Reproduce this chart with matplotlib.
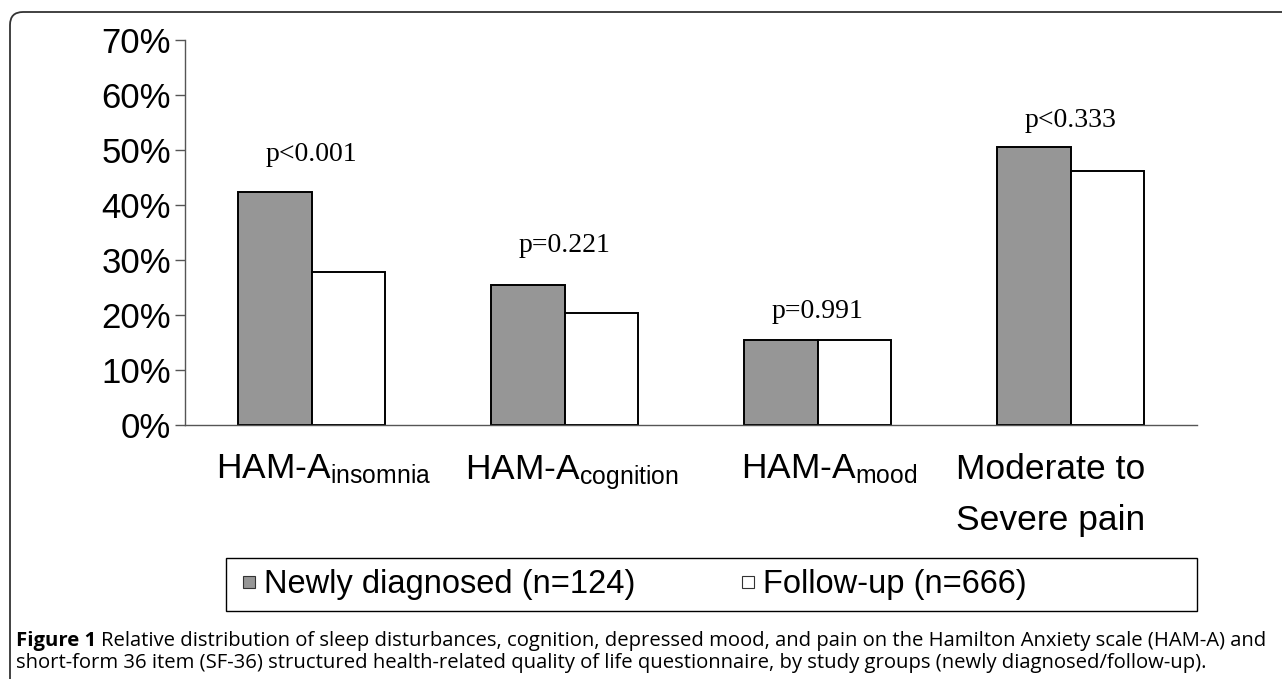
import matplotlib
matplotlib.use('Agg')
import matplotlib.pyplot as plt
import matplotlib.transforms as mtransforms
from matplotlib.lines import Line2D
from matplotlib.patches import FancyBboxPatch, Rectangle
import numpy as np

categories = [r'HAM-A$_{\mathrm{insomnia}}$', r'HAM-A$_{\mathrm{cognition}}$',
              r'HAM-A$_{\mathrm{mood}}$', 'Moderate to\nSevere pain']
newly_diagnosed = [42.4, 25.5, 15.5, 50.6]
follow_up = [27.8, 20.4, 15.5, 46.1]
p_labels = ['p<0.001', 'p=0.221', 'p=0.991', 'p<0.333']
series_names = ['Newly diagnosed (n=124)', 'Follow-up (n=666)']
caption_bold = 'Figure 1'
caption_line1 = ('Relative distribution of sleep disturbances, cognition, depressed mood, '
                 'and pain on the Hamilton Anxiety scale (HAM-A) and')
caption_line2 = ('short-form 36 item (SF-36) structured health-related quality of life '
                 'questionnaire, by study groups (newly diagnosed/follow-up).')

plt.rcParams['font.family'] = ['Liberation Sans', 'DejaVu Sans']
plt.rcParams['mathtext.fontset'] = 'custom'
plt.rcParams['mathtext.rm'] = 'Liberation Sans'
plt.rcParams['mathtext.it'] = 'Liberation Sans:italic'

W, H = 1282, 679
fig = plt.figure(figsize=(W / 100, H / 100), dpi=100)


def fx(x):
    return x / W


def fy(y):
    return 1 - y / H


# outer rounded frame, cut off at right and bottom
frame = FancyBboxPatch((10 / 100, -0.5), (W + 50) / 100, (H - 12) / 100 + 0.5,
                       boxstyle='round,pad=0,rounding_size=0.13',
                       transform=fig.dpi_scale_trans, facecolor='none',
                       edgecolor='#333333', linewidth=1.3)
fig.patches.append(frame)

ax = fig.add_axes([fx(185), fy(425), fx(1197) - fx(185), fy(40) - fy(425)])
x = np.arange(len(categories))
bw = 0.29
gray = '#969696'
ax.bar(x - bw / 2, newly_diagnosed, bw, color=gray, edgecolor='black', linewidth=1.4, zorder=2)
ax.bar(x + bw / 2, follow_up, bw, color='white', edgecolor='black', linewidth=1.4, zorder=2)

# p-value labels above each group (offsets in points)
p_offsets = [18, 19, 11, 10]
for xi, top, lab, off in zip(x, np.maximum(newly_diagnosed, follow_up), p_labels, p_offsets):
    ax.annotate(lab, (xi, top), xytext=(0, off), textcoords='offset points',
                ha='center', va='bottom', fontsize=20, family='Liberation Serif')

ax.set_xlim(-0.5, len(categories) - 0.5)
ax.set_ylim(0, 70)
ax.set_yticks(np.arange(0, 71, 10))
ax.set_yticklabels([f'{v}%' for v in range(0, 71, 10)])
ax.set_xticks(x)
ax.set_xticklabels(categories, fontsize=25.5, linespacing=1.7)
ax.tick_params(axis='x', length=0, pad=20)
ax.tick_params(axis='y', length=7, width=1, color='#555555', labelsize=25, pad=3)

# small horizontal nudges of the category labels (pixels)
label_shift = [12, 7, 12, -20]
for lbl, dx in zip(ax.get_xticklabels(), label_shift):
    lbl.set_transform(lbl.get_transform() + mtransforms.ScaledTranslation(dx / 100, 0, fig.dpi_scale_trans))

for side in ['top', 'right']:
    ax.spines[side].set_visible(False)
for side in ['left', 'bottom']:
    ax.spines[side].set_color('#555555')
    ax.spines[side].set_linewidth(1)

# legend box
box = Rectangle((fx(226), fy(611)), fx(1197) - fx(226), fy(558) - fy(611),
                transform=fig.transFigure, facecolor='none', edgecolor='black', linewidth=1)
fig.patches.append(box)
handles = [Line2D([], [], marker='s', linestyle='none', markersize=8.5,
                  markerfacecolor=gray, markeredgecolor='#333333', markeredgewidth=0.8),
           Line2D([], [], marker='s', linestyle='none', markersize=8.5,
                  markerfacecolor='white', markeredgecolor='#333333', markeredgewidth=0.8)]
fig.legend(handles, series_names, loc='center left', bbox_to_anchor=(fx(241), fy(585)),
           ncol=2, frameon=False, fontsize=23.5, handlelength=0.5, handletextpad=0.2,
           columnspacing=3.2, borderpad=0, borderaxespad=0)

# caption
cap_font = ['Open Sans', 'DejaVu Sans']
cap_size = 14.6
t = fig.text(fx(16), fy(646), caption_bold, fontsize=cap_size, fontweight='bold',
             family=cap_font, va='baseline', ha='left')
renderer = fig.canvas.get_renderer()
bb = t.get_window_extent(renderer)
fig.text(bb.x1 / W + 5 / W, fy(646), caption_line1, fontsize=cap_size, family=cap_font,
         va='baseline', ha='left')
fig.text(fx(16), fy(668), caption_line2, fontsize=cap_size, family=cap_font,
         va='baseline', ha='left')

fig.savefig('out.png', dpi=100)
